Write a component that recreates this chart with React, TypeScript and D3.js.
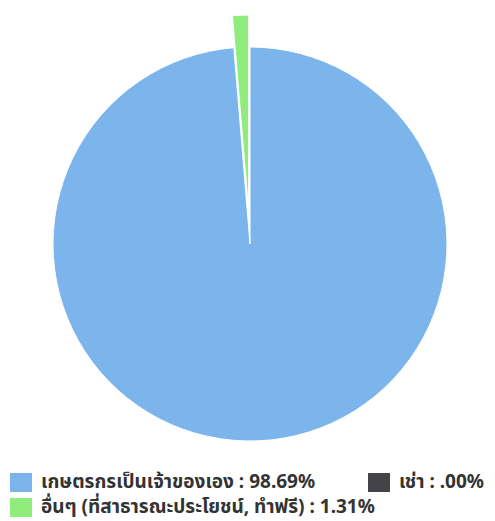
import React from "react";
import * as d3 from "d3";

const categories = ["เกษตรกรเป็นเจ้าของเอง", "เช่า", "อื่นๆ (ที่สาธารณะประโยชน์, ทำฟรี)"];
const values = [98.69, 0.0, 1.31];
const labels = ["98.69%", ".00%", "1.31%"];
const colors = ["#7cb5ec", "#434348", "#90ed7d"];
const sliced = [false, false, true];

export default function App() {
  const W = 495, H = 521;
  const cx = 250, cy = 244, r = 197, offset = 32;
  const pie = d3.pie<number>().sort(null).value((d) => d)(values);
  const arc = d3.arc<d3.PieArcDatum<number>>().innerRadius(0).outerRadius(r);
  const legendRows = [
    [{ i: 0, x: 10 }, { i: 1, x: 368 }],
    [{ i: 2, x: 10 }],
  ];
  const rowY = [483, 508];
  return (
    <svg width={W} height={H} style={{ position: "absolute", left: 0, top: 0 }}>
      <rect width={W} height={H} fill="#fff" />
      <g transform={`translate(${cx},${cy})`}>
        {pie.map((p, i) => {
          if (p.endAngle - p.startAngle <= 0) return null;
          const mid = (p.startAngle + p.endAngle) / 2;
          const dx = sliced[i] ? Math.sin(mid) * offset : 0;
          const dy = sliced[i] ? -Math.cos(mid) * offset : 0;
          return (
            <path
              key={i}
              d={arc(p) || ""}
              fill={colors[i]}
              stroke="#fff"
              strokeWidth={1}
              strokeLinejoin="round"
              transform={`translate(${dx},${dy})`}
            />
          );
        })}
      </g>
      {legendRows.map((row, ri) =>
        row.map(({ i, x }) => (
          <g key={i} transform={`translate(${x},${rowY[ri]})`}>
            <rect x={0} y={-10} width={22} height={19} fill={colors[i]} />
            <text
              x={31}
              y={0}
              dominantBaseline="middle"
              fontFamily="'Noto Sans', 'Noto Sans Thai', sans-serif"
              fontWeight="bold"
              fontSize={19}
              fill="#333333"
            >
              {`${categories[i]} : ${labels[i]}`}
            </text>
          </g>
        ))
      )}
    </svg>
  );
}
